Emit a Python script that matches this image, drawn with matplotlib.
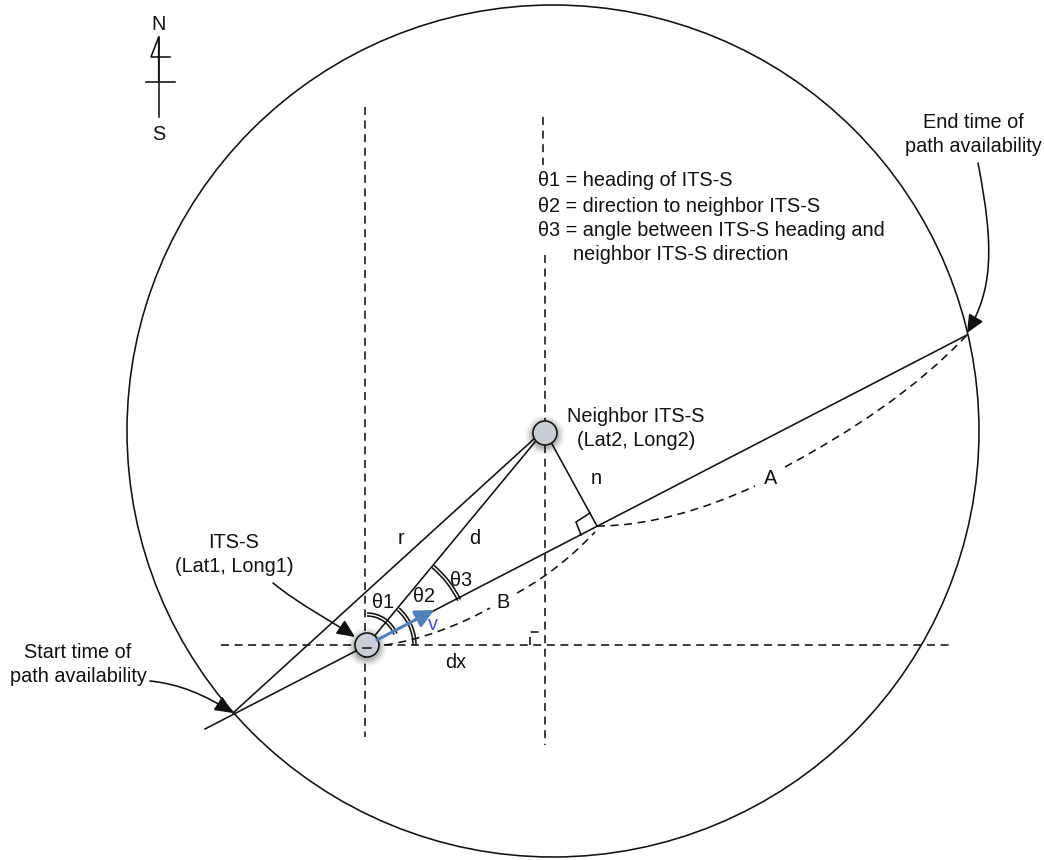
import matplotlib
matplotlib.use("Agg")
import matplotlib.pyplot as plt
from matplotlib.patches import Circle, Arc, FancyArrowPatch, PathPatch
from matplotlib.path import Path

plt.rcParams['font.family'] = ['Liberation Sans', 'DejaVu Sans']

BOUNDARY = (553, 431, 426)
NODES = [(367, 645), (545, 433)]
NODE_R = 12
SOLID = [
    [(205, 729), (967, 335)],          # heading line
    [(233, 713), (535, 438)],          # r
    [(367, 645), (535, 442)],          # d
    [(552, 444), (597, 526)],          # n
    [(581, 535), (576, 522), (590, 513)],  # right angle at n
    [(158.7, 82), (158.7, 37), (151, 57), (170, 57)],  # north mark
    [(158.7, 37), (158.7, 117)],
    [(146, 82), (175, 82)],
]
DASHED = [
    [(365, 107), (365, 737)],
    [(543, 117), (543, 165)],
    [(545, 255), (545, 745)],
    [(221, 645), (953, 645)],
    [(530, 645), (530, 632), (543, 632)],
]
DASHED_CURVES = [
    [(385, 645), (420, 640), (460, 625), (490, 608)],
    [(517, 593), (550, 575), (575, 553), (595, 532)],
    [(597, 526), (650, 526), (705, 509), (755, 486)],
    [(785, 467), (850, 432), (915, 390), (967, 335)],
]
ARROW_CURVES = [
    [(273, 583), (300, 605), (330, 620), (355, 637)],
    [(150, 681), (180, 684), (205, 695), (233, 713)],
    [(978, 163), (995, 250), (992, 290), (967, 333)],
]
ANGLE_ARCS = [(29, 270, 339), (46, 311, 360), (101, 310, 334)]
VELOCITY = [(377, 640), (434, 610)]
LABELS = [
    ("N", 159, 25, "center"), ("S", 159, 134, "center"),
    ("θ1 = heading of ITS-S", 538, 181, "left"),
    ("θ2 = direction to neighbor ITS-S", 538, 206, "left"),
    ("θ3 = angle between ITS-S heading and", 538, 230, "left"),
    ("neighbor ITS-S direction", 573, 254, "left"),
    ("End time of", 973, 122, "center"), ("path availability", 973, 146, "center"),
    ("Start time of", 78, 652, "center"), ("path availability", 78, 677, "center"),
    ("ITS-S", 234, 543, "center"), ("(Lat1, Long1)", 234, 566, "center"),
    ("Neighbor ITS-S", 636, 416, "center"), ("(Lat2, Long2)", 636, 440, "center"),
    ("r", 401, 538, "center"), ("d", 475, 539, "center"), ("n", 596, 479, "center"),
    ("A", 771, 479, "center"), ("B", 503, 602, "center"), ("dx", 456, 663, "center"),
    ("θ1", 383, 602, "center"), ("θ2", 424, 597, "center"), ("θ3", 461, 580, "center"),
]

fig = plt.figure(figsize=(10.44, 8.6), dpi=100)
ax = fig.add_axes([0, 0, 1, 1])
ax.set_xlim(0, 1044)
ax.set_ylim(860, 0)
ax.axis("off")

LW = 1.15
K = "#111111"
ax.add_patch(Circle(BOUNDARY[:2], BOUNDARY[2], fill=False, ec=K, lw=LW))

for seg in SOLID:
    xs, ys = zip(*seg)
    ax.plot(xs, ys, color=K, lw=LW, solid_joinstyle="miter")
for seg in DASHED:
    xs, ys = zip(*seg)
    ax.plot(xs, ys, color=K, lw=LW, dashes=(5, 3.5))

cubic = [Path.MOVETO, Path.CURVE4, Path.CURVE4, Path.CURVE4]
for c in DASHED_CURVES:
    ax.add_patch(PathPatch(Path(c, cubic), fill=False, ec=K, lw=LW, ls=(0, (5, 3.5))))
for c in ARROW_CURVES:
    ax.add_patch(FancyArrowPatch(path=Path(c, cubic), transform=ax.transData,
                                 arrowstyle="-|>,head_length=1,head_width=0.45",
                                 mutation_scale=11, color=K, lw=LW, zorder=4))

cx, cy = NODES[0]
for r, a, b in ANGLE_ARCS:
    for rr in (r, r + 3):
        ax.add_patch(Arc((cx, cy), 2 * rr, 2 * rr, theta1=a, theta2=b, ec=K, lw=LW, zorder=3))

for (x, y) in NODES:
    for grow, alpha in [(8, .04), (6, .06), (4, .09), (2, .13)]:
        ax.add_patch(Circle((x, y + 2), NODE_R + grow, fc="black", ec="none", alpha=alpha, zorder=5))
    ax.add_patch(Circle((x, y), NODE_R, fc="#c9ced6", ec=K, lw=LW, zorder=6))
ax.plot([cx - 4, cx + 4], [cy + 2.5, cy + 2.5], color=K, lw=LW, zorder=7)

ax.add_patch(FancyArrowPatch(VELOCITY[0], VELOCITY[1], arrowstyle="-|>,head_length=1,head_width=0.5",
                             mutation_scale=11, color="#4f81bd", lw=2.2, shrinkA=0, shrinkB=0, zorder=8))
ax.text(433, 625, "v", color="#4a4fe0", fontsize=14.3, ha="center", va="center", zorder=9)

for s, x, y, ha in LABELS:
    ax.text(x, y, s, fontsize=14.3, ha=ha, va="center", color=K, zorder=9)

fig.savefig("out.png", dpi=100)
